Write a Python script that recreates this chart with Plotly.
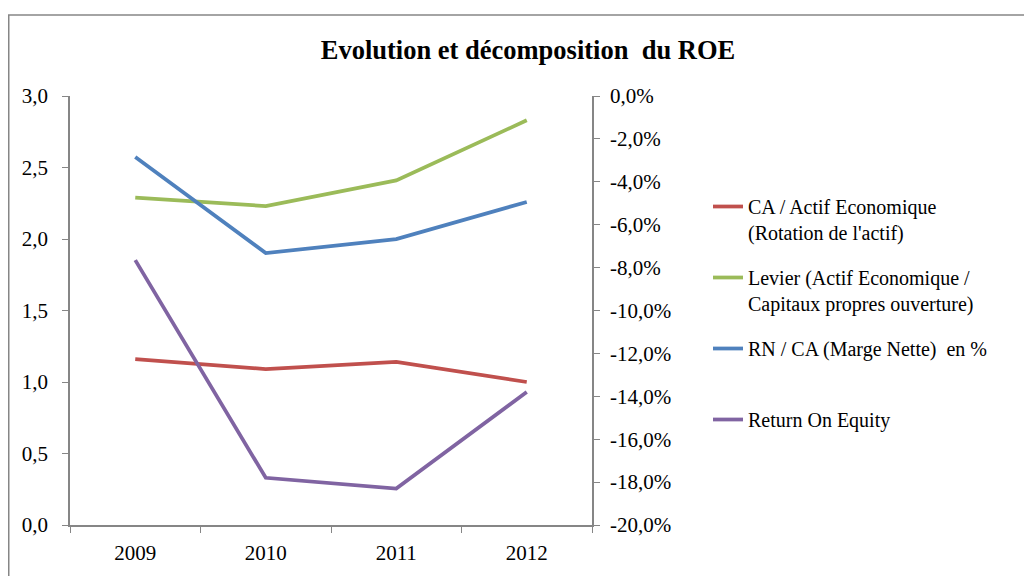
import plotly.graph_objects as go

years = ["2009", "2010", "2011", "2012"]
rotation = [1.16, 1.09, 1.14, 1.00]
levier = [2.29, 2.23, 2.41, 2.83]
marge = [-0.0284, -0.0732, -0.0667, -0.0494]
roe = [-0.0765, -0.178, -0.183, -0.138]

left_ticks = [0, 0.5, 1.0, 1.5, 2.0, 2.5, 3.0]
left_labels = ["0,0", "0,5", "1,0", "1,5", "2,0", "2,5", "3,0"]
right_ticks = [0, -0.02, -0.04, -0.06, -0.08, -0.10, -0.12, -0.14, -0.16, -0.18, -0.20]
right_labels = ["0,0%", "-2,0%", "-4,0%", "-6,0%", "-8,0%", "-10,0%", "-12,0%",
                "-14,0%", "-16,0%", "-18,0%", "-20,0%"]

FONT = "Liberation Serif"
W, H = 1024, 568
L, T = 62, 88
PR, PB = 584, 517
R, B = W - PR, H - PB
pw, ph = PR - L, PB - T

def px(x):
    return (x - L) / pw

def py(y):
    return (PB - y) / ph

fig = go.Figure()
fig.add_trace(go.Scatter(x=years, y=rotation, mode="lines", legendgroup="a",
                         name="CA / Actif Economique<br>(Rotation de l'actif)",
                         line=dict(color="#C0504D", width=3.75)))
fig.add_trace(go.Scatter(x=years, y=levier, mode="lines", legendgroup="b",
                         name="Levier (Actif Economique /<br>Capitaux propres ouverture)",
                         line=dict(color="#9BBB59", width=3.75)))
fig.add_trace(go.Scatter(x=years, y=marge, mode="lines", legendgroup="c", yaxis="y2",
                         name="RN / CA (Marge Nette)  en %<br> ",
                         line=dict(color="#4F81BD", width=3.75)))
fig.add_trace(go.Scatter(x=years, y=roe, mode="lines", legendgroup="d", yaxis="y2",
                         name="Return On Equity",
                         line=dict(color="#8064A2", width=3.75)))

axis_col = "#868686"
tick_font = dict(family=FONT, size=21, color="black")
fig.update_layout(
    width=W, height=H,
    margin=dict(l=L, r=R, t=T, b=B),
    paper_bgcolor="white", plot_bgcolor="white",
    font=dict(family=FONT, size=20, color="black"),
    title=dict(text="<b>Evolution et décomposition  du ROE</b>", x=520 / W,
               xanchor="center", y=1 - 42 / H, yanchor="middle",
               font=dict(family=FONT, size=26.5, color="black")),
    xaxis=dict(type="category", showgrid=False, showline=True, linecolor=axis_col, linewidth=1.5,
               ticks="outside", ticklen=6, tickcolor=axis_col, tickson="boundaries",
               tickfont=tick_font, range=[-0.5, 3.5], ticklabelstandoff=8),
    yaxis=dict(range=[0, 3.0], tickvals=left_ticks, ticktext=left_labels, showgrid=False,
               showline=True, linecolor=axis_col, linewidth=1.5, ticks="outside", ticklen=6,
               tickcolor=axis_col, zeroline=False, tickfont=tick_font, ticklabelstandoff=10),
    yaxis2=dict(range=[-0.20, 0], tickvals=right_ticks, ticktext=right_labels, overlaying="y",
                side="right", showgrid=False, showline=True, linecolor=axis_col, linewidth=1.5,
                ticks="outside", ticklen=6, tickcolor=axis_col, zeroline=False,
                tickfont=tick_font, ticklabelstandoff=6),
    legend=dict(x=px(700), y=py(179), xanchor="left", yanchor="top", valign="top",
                font=dict(family=FONT, size=20), bgcolor="rgba(0,0,0,0)", itemwidth=30,
                tracegroupgap=16),
    showlegend=True,
    shapes=[dict(type="rect", xref="paper", yref="paper", x0=px(0.75), x1=px(1200), y0=py(700), y1=py(7),
                 line=dict(color="#868686", width=1.5), fillcolor="rgba(0,0,0,0)", layer="below")],
)

fig.write_html("out.html")
